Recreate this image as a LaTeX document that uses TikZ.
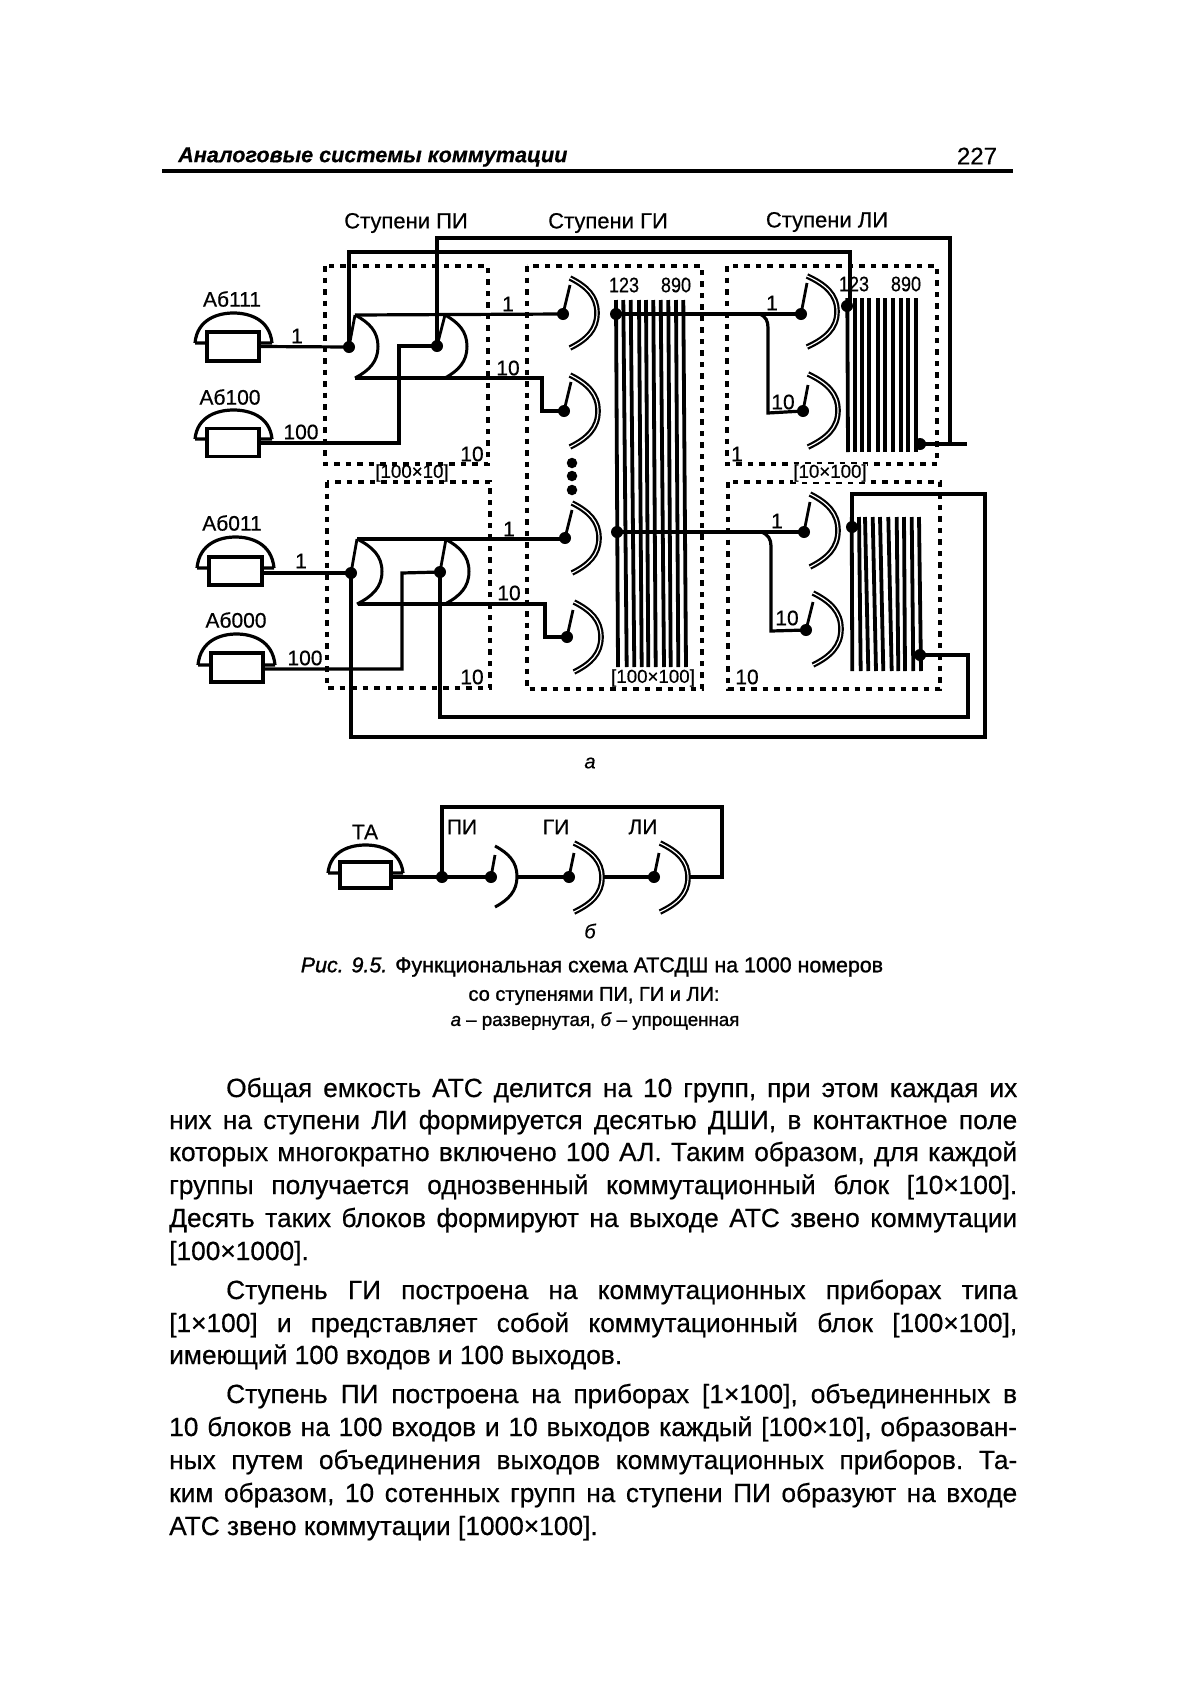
\documentclass[tikz,border=0pt]{standalone}
\usepackage{fontspec}
\usepackage{graphicx}
\setmainfont{Liberation Sans}[FakeBold=0.5]
\newfontfamily\capfont{Liberation Sans}[FakeBold=1.2]
\usetikzlibrary{calc}
\tikzset{
  wire/.style={line width=3.2pt,line join=miter},
  bus/.style={line width=4.2pt},
  bar/.style={line width=3.8pt},
  arm/.style={line width=2.8pt},
  dashbox/.style={line width=3.2pt,dash pattern=on 5.5pt off 6pt},
  jdot/.style={circle,fill=black,inner sep=0pt,minimum size=12pt},
  phonebox/.style={draw,line width=3.3pt,inner sep=0pt,fill=white},
  lab/.style={inner sep=0pt,font=\fontsize{21}{22}\selectfont},
  small/.style={inner sep=0pt,font=\fontsize{18.7}{19}\selectfont},
  title/.style={inner sep=0pt,font=\fontsize{22}{23}\selectfont},
  capt/.style={inner sep=0pt,font=\capfont\fontsize{21.4}{22}\selectfont},
  bodytxt/.style={inner sep=0pt,anchor=base west,font=\fontsize{26.3}{27}\selectfont\frenchspacing},
  singlearc/.style={line width=3pt},
  doublearc/.style={line width=2.2pt,double=white,double distance=1.2pt},
}
\newcommand\SwArc[5]{% style, x, top, bulge, bottom
  \pgfmathsetmacro\myw{#4-#2}\pgfmathsetmacro\myh{#5-#3}\pgfmathsetmacro\mym{(#3+#5)/2}
  \draw[#1] (#2,#3) .. controls ({#2+.62*\myw},{#3+.12*\myh}) and (#4,{\mym-.24*\myh}) .. (#4,\mym)
     .. controls (#4,{\mym+.24*\myh}) and ({#2+.62*\myw},{#5-.12*\myh}) .. (#2,#5);}
\newcommand\Dome[4]{% left, right, top, base ; phone handset
  \pgfmathsetmacro\myw{#2-#1}
  \draw[wire,line width=3.2pt] (#1,#4) -- ({#1+.16*\myw},#4) (#2,#4) -- ({#2-.16*\myw},#4)
    (#1,#4) .. controls ({#1+.03*\myw},{#3+.2*(#4-#3)}) and ({#1+.3*\myw},#3) .. ({(#1+#2)/2},#3)
    .. controls ({#2-.3*\myw},#3) and ({#2-.03*\myw},{#3+.2*(#4-#3)}) .. (#2,#4);}
\newcommand\BodyLine[3]{\node[bodytxt] (#1) at (169,#2) {\makebox[848pt][s]{#3}};}
\newcommand\BodyInd[3]{\node[bodytxt] (#1) at (226,#2) {\makebox[791pt][s]{#3}};}
\newcommand\Tight[1]{\scalebox{.86}[1]{#1}}
\begin{document}
\begin{tikzpicture}[x=1pt,y=-1pt]
\useasboundingbox (0,0) rectangle (1190,1684);
\fill[white] (0,0) rectangle (1190,1684);
% header
\node[inner sep=0pt,anchor=west,font=\fontsize{21.6}{22}\selectfont\bfseries\itshape] (hdr) at (178,157) {Аналоговые системы коммутации};
\node[inner sep=0pt,font=\fontsize{24}{25}\selectfont] (pg) at (977,156) {227};
\draw[line width=4pt] (162,171) -- (1013,171);
% titles
\node[title] (t1) at (406,223) {Ступени ПИ};
\node[title] (t2) at (608,223) {Ступени ГИ};
\node[title] (t3) at (827,222) {Ступени ЛИ};
% dashed boxes
\draw[dashbox] (325,266) rectangle (488,464);
\draw[dashbox] (327,482) rectangle (490,688);
\draw[dashbox] (527,266) rectangle (702,689);
\draw[dashbox] (727,266) rectangle (937,464);
\draw[dashbox] (728,482) rectangle (940,689);
% phones
\Dome{195}{272}{313}{343}
\Dome{195}{272}{410}{439}
\Dome{197}{274}{537}{568}
\Dome{198}{275}{634}{665}
\node[phonebox,minimum width=52pt,minimum height=29pt] (p1) at (233,346.5) {};
\node[phonebox,minimum width=52pt,minimum height=28pt] (p2) at (233,442.5) {};
\node[phonebox,minimum width=53pt,minimum height=28pt] (p3) at (235.5,571) {};
\node[phonebox,minimum width=52pt,minimum height=29pt] (p4) at (237,667.5) {};
\node[lab] (a1) at (232,299) {Аб111};
\node[lab] (a2) at (230,397) {Аб100};
\node[lab] (a3) at (232,523) {Аб011};
\node[lab] (a4) at (236,620) {Аб000};
% contact fields
\foreach \tx/\bx [count=\i] in {616/618,623.3/626.7,630.7/634.3,639/641.7,646/648.3,653.3/655.7,660.7/664,668.3/670.7,676/678.3,683.3/686}
  \draw[bar] (\tx,300) -- (\bx,667);
\foreach \tx/\bx in {847.3/848,855/855,861.7/861.7,869.3/869.3,878/878,885/885,892.7/892.7,900.7/900.7,908.3/908.3,916/916}
  \draw[bar] (\tx,298) -- (\bx,452);
\foreach \tx/\bx in {851.7/852.3,859/860.7,865/868.3,872.7/876,880/883.3,888.3/891.7,896.7/898.3,904/905,911.7/913.3,919/921}
  \draw[bar] (\tx,517) -- (\bx,671);
% junctions
\node[jdot] (sa1) at (349,347) {};
\node[jdot] (sa2) at (437,346) {};
\node[jdot] (sb1) at (351,573) {};
\node[jdot] (sb2) at (440,572) {};
\node[jdot] (g1) at (563,314) {};
\node[jdot] (g2) at (564,411) {};
\node[jdot] (g3) at (565,538) {};
\node[jdot] (g4) at (567,637) {};
\node[jdot] (f1) at (616,314) {};
\node[jdot] (f2) at (617,532) {};
\node[jdot] (l1) at (801,314) {};
\node[jdot] (l2) at (803,411) {};
\node[jdot] (l3) at (804,532) {};
\node[jdot] (l4) at (806,630) {};
\node[jdot] (m1) at (847,306) {};
\node[jdot] (m2) at (920,444) {};
\node[jdot] (m3) at (852,527) {};
\node[jdot] (m4) at (920,655) {};
\node[jdot,minimum size=10.5pt] (e1) at (572,463) {};
\node[jdot,minimum size=10.5pt] (e2) at (572,476) {};
\node[jdot,minimum size=10.5pt] (e3) at (572,490) {};
% free ends
\coordinate (ta1) at (355,315); \coordinate (ta2) at (445,315);
\coordinate (tb1) at (357,539); \coordinate (tb2) at (446,539);
\coordinate (ba1) at (355,378); \coordinate (ba2) at (445,378);
\coordinate (bb1) at (358,604); \coordinate (bb2) at (445,604);
\coordinate (o1) at (967,444);
% PI arcs
\SwArc{singlearc}{355}{315}{378}{378}
\SwArc{singlearc}{445}{315}{467}{378}
\SwArc{singlearc}{357}{539}{382}{604}
\SwArc{singlearc}{445}{539}{469}{604}
% PI arms
\draw[arm] (sa1.center) -- (ta1);
\draw[arm] (sa2.center) -- (ta2);
\draw[arm] (sb1.center) -- (tb1);
\draw[arm] (sb2.center) -- (tb2);
% wires, part a
\draw[wire] (p1.east) -- (sa1.center);
\draw[wire] (p2.east |- 0,443) -- (399,443) -- (399,346) -- (sa2.center);
\draw[wire] (p3.east |- sb1) -- (sb1.center);
\draw[wire] (p4.east |- 0,669) -- (402,669) -- (402,573) -- (sb2.center);
\draw[wire] (ta1) -- (g1.center);
\draw[wire] (ba1) -- (542,378) -- (542,411) -- (g2.center);
\draw[wire] (tb1) -- (g3.center |- tb1) -- (g3.center);
\draw[wire] (bb1) -- (545,604) -- (545,637) -- (g4.center);
\draw[wire] (sa1.center) -- (349,252) -- (850,252) -- (850,306) -- (m1.center);
\draw[wire] (sa2.center) -- (437,238) -- (950,238) -- (950,444);
\draw[wire] (m2.center) -- (o1);
\draw[wire] (sb1.center) -- (351,737) -- (985,737) -- (985,494) -- (852,494) -- (m3.center);
\draw[wire] (sb2.center) -- (440,717) -- (968,717) -- (968,655) -- (m4.center);
% horizontal buses through GI field
\draw[bus] (f1.center) -- (686,314); \draw[wire] (686,314) -- (l1.center);
\draw[bus] (f2.center) -- (688,532); \draw[wire] (688,532) -- (l3.center);
\draw[wire] (760,314) .. controls (766,317) and (768,321) .. (768,328) -- (768,413) -- (l2.center);
\draw[wire] (762,532) .. controls (768,535) and (771,539) .. (771,546) -- (771,631) -- (l4.center);
% GI arms/arcs
\foreach \dn/\ax/\ay in {g1/570/285,g2/571/382,g3/572/510,g4/573/610,l1/807/283,l2/808/385,l3/810/502,l4/813/602}
  \draw[arm] (\dn.center) -- (\ax,\ay);
\SwArc{doublearc}{570}{278}{597}{348}
\SwArc{doublearc}{570}{375}{598}{447}
\SwArc{doublearc}{572}{503}{599}{573}
\SwArc{doublearc}{574}{602}{601}{672}
\SwArc{doublearc}{807}{276}{837}{347}
\SwArc{doublearc}{808}{374}{838}{447}
\SwArc{doublearc}{810}{494}{838}{567}
\SwArc{doublearc}{813}{593}{841}{665}
% labels, part a
\node[lab] (n1) at (297,336) {1};
\node[lab] (n2) at (301,432) {100};
\node[lab] (n3) at (472,454) {10};
\node[small] (n4) at (412,473) {[100×10]};
\node[lab] (n5) at (508,304) {1};
\node[lab] (n6) at (508,368) {10};
\node[lab] (n7) at (301,561) {1};
\node[lab] (n8) at (305,658) {100};
\node[lab] (n9) at (509,593) {10};
\node[lab] (n10) at (509,529) {1};
\node[lab] (n11) at (472,677) {10};
\node[lab] (n12) at (772,303) {1};
\node[lab] (n13) at (783,402) {10};
\node[lab] (n14) at (777,521) {1};
\node[lab] (n15) at (787,618) {10};
\node[lab] (n16) at (737,454) {1};
\node[small,fill=white] (n17) at (830,473) {[10×100]};
\node[small] (n18) at (653,678) {[100×100]};
\node[lab] (n19) at (747,677) {10};
\node[lab] (n20) at (624,285) {\Tight{123}};
\node[lab] (n21) at (676,285) {\Tight{890}};
\node[lab] (n22) at (854,284) {\Tight{123}};
\node[lab] (n23) at (906,284) {\Tight{890}};
\node[inner sep=0pt,font=\fontsize{20}{20}\selectfont\itshape] (capa) at (590,763) {а};
% part b
\Dome{328}{403}{845}{873}
\node[phonebox,minimum width=51pt,minimum height=26pt] (pt) at (365.5,875) {};
\node[lab] (ta) at (365,832) {ТА};
\node[jdot] (b0) at (442,877) {};
\node[jdot] (b1) at (491,877) {};
\node[jdot] (b2) at (569,877) {};
\node[jdot] (b3) at (654,877) {};
\coordinate (bb1e) at (517,877);
\coordinate (bb2e) at (602,877);
\coordinate (bb3e) at (688,877);
\draw[wire] (pt.east |- b0) -- (b0.center) -- (b1.center);
\draw[wire] (bb1e) -- (b2.center);
\draw[wire] (bb2e) -- (b3.center);
\draw[wire] (b0.center) -- (442,807) -- (722,807) -- (722,877) -- (bb3e);
\draw[arm] (b1.center) -- (495,855);
\draw[arm] (b2.center) -- (574,853);
\draw[arm] (b3.center) -- (659,853);
\SwArc{singlearc}{495}{846}{517}{907}
\SwArc{doublearc}{574}{843}{602}{912}
\SwArc{doublearc}{660}{843}{688}{912}
\node[lab] (pi) at (462,827) {ПИ};
\node[lab] (gi) at (556,827) {ГИ};
\node[lab] (li) at (643,827) {ЛИ};
\node[inner sep=0pt,font=\fontsize{20}{20}\selectfont\itshape] (capb) at (590,931) {б};
% caption
\node[capt] (c1) at (592,967) {\textit{Рис. 9.5.} Функциональная схема АТСДШ на 1000 номеров};
\node[capt,font=\capfont\fontsize{20}{21}\selectfont] (c2) at (594,996) {со ступенями ПИ, ГИ и ЛИ:};
\node[inner sep=0pt,font=\capfont\fontsize{18.7}{19}\selectfont] (c3) at (595,1021) {\textit{а} – развернутая, \textit{б} – упрощенная};
% body text
\BodyInd{b01}{1097}{Общая емкость АТС делится на 10 групп, при этом каждая их}
\BodyLine{b02}{1129}{них на ступени ЛИ формируется десятью ДШИ, в контактное поле}
\BodyLine{b03}{1161}{которых многократно включено 100 АЛ. Таким образом, для каждой}
\BodyLine{b04}{1194}{группы получается однозвенный коммутационный блок [10×100].}
\BodyLine{b05}{1227}{Десять таких блоков формируют на выходе АТС звено коммутации}
\node[bodytxt] (b06) at (169,1260) {[100×1000].};
\BodyInd{b07}{1299}{Ступень ГИ построена на коммутационных приборах типа}
\BodyLine{b08}{1332}{[1×100] и представляет собой коммутационный блок [100×100],}
\node[bodytxt] (b09) at (169,1364) {имеющий 100 входов и 100 выходов.};
\BodyInd{b10}{1403}{Ступень ПИ построена на приборах [1×100], объединенных в}
\BodyLine{b11}{1436}{10 блоков на 100 входов и 10 выходов каждый [100×10], образован-}
\BodyLine{b12}{1469}{ных путем объединения выходов коммутационных приборов. Та-}
\BodyLine{b13}{1502}{ким образом, 10 сотенных групп на ступени ПИ образуют на входе}
\node[bodytxt] (b14) at (169,1535) {АТС звено коммутации [1000×100].};
\end{tikzpicture}
\end{document}
